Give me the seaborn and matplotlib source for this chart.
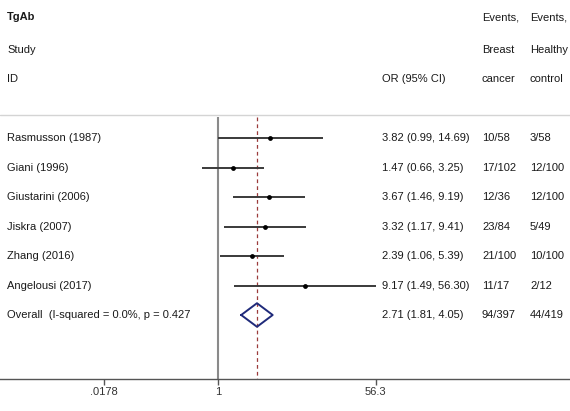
import numpy as np
import pandas as pd
import matplotlib
matplotlib.use("Agg")
import matplotlib.pyplot as plt
import seaborn as sns
from matplotlib.transforms import Bbox

# -----------------------
# Data
# -----------------------
studies = ["Rasmusson (1987)", "Giani (1996)", "Giustarini (2006)",
           "Jiskra (2007)", "Zhang (2016)", "Angelousi (2017)"]
odds_ratio = [3.82, 1.47, 3.67, 3.32, 2.39, 9.17]
ci_low = [0.99, 0.66, 1.46, 1.17, 1.06, 1.49]
ci_high = [14.69, 3.25, 9.19, 9.41, 5.39, 56.30]
events_cancer = ["10/58", "17/102", "12/36", "23/84", "21/100", "11/17"]
events_control = ["3/58", "12/100", "12/100", "5/49", "10/100", "2/12"]

overall_label = "Overall  (I-squared = 0.0%, p = 0.427)"
overall_or = 2.71
overall_low = 1.81
overall_high = 4.05
overall_cancer = "94/397"
overall_control = "44/419"

tick_labels = [".0178", "1", "56.3"]

df = pd.DataFrame({
    "study": studies,
    "or": odds_ratio,
    "low": ci_low,
    "high": ci_high,
    "ev1": events_cancer,
    "ev2": events_control,
})
df["row"] = np.arange(len(df))
overall_row = len(df)

# -----------------------
# Figure
# -----------------------
sns.set_style("white")
plt.rcParams["font.family"] = ["Liberation Sans", "DejaVu Sans"]

W, H = 570, 411
fig = plt.figure(figsize=(W / 100, H / 100), dpi=100)
ax = fig.add_axes([0, 32 / H, 1, 379 / H])

px_per_log = 39.1
x_one = 218
ax.set_xscale("log")
ax.set_xlim(np.exp(-x_one / px_per_log), np.exp((W - x_one) / px_per_log))
ax.set_ylim(8.17, -4.68)

# header separator
ax.axhline(-0.78, color="#d4d4d4", lw=1)

# null line and overall line
ax.vlines(1, -0.71, 8.17, color="#8a8a8a", lw=1.5, zorder=1)
ax.vlines(overall_or, -0.71, 8.17, color="#9b3b3b", lw=0.9,
          linestyles=(0, (3, 2.5)), zorder=1)

# study CIs and points
ax.hlines(df["row"], df["low"], df["high"], color="#3a3a3a", lw=1.4, zorder=2)
sns.scatterplot(data=df, x="or", y="row", ax=ax, color="black", s=12,
                edgecolor="black", linewidth=0, zorder=3, legend=False)

# overall diamond
dx = [overall_low, overall_or, overall_high, overall_or, overall_low]
dy = [overall_row, overall_row - 0.4, overall_row, overall_row + 0.4, overall_row]
ax.plot(dx, dy, color="#1f2a7a", lw=1.4, zorder=3)

# -----------------------
# Text columns
# -----------------------
tr = ax.get_yaxis_transform()
fs = 8
txt_col = "#1a1a1a"


def col_x(px):
    return px / W


ax.text(col_x(7), -4.1, "TgAb", transform=tr, fontsize=fs, fontweight="bold",
        va="center", color=txt_col)
ax.text(col_x(7), -3, "Study", transform=tr, fontsize=fs, va="center", color=txt_col)
ax.text(col_x(7), -2, "ID", transform=tr, fontsize=fs, va="center", color=txt_col)
ax.text(col_x(382), -2, "OR (95% CI)", transform=tr, fontsize=fs, va="center", color=txt_col)
for x, lines in [(482, ["Events,", "Breast", "cancer"]),
                 (530, ["Events,", "Healthy", "control"])]:
    for r, s in zip([-4.1, -3, -2], lines):
        ax.text(col_x(x), r, s, transform=tr, fontsize=fs, va="center", color=txt_col)

for _, r in df.iterrows():
    ax.text(col_x(7), r["row"], r["study"], transform=tr, fontsize=fs,
            va="center", color=txt_col)
    ax.text(col_x(382), r["row"],
            f"{r['or']:.2f} ({r['low']:.2f}, {r['high']:.2f})",
            transform=tr, fontsize=fs, va="center", color=txt_col)
    ax.text(col_x(482), r["row"], r["ev1"], transform=tr, fontsize=fs,
            va="center", color=txt_col)
    ax.text(col_x(530), r["row"], r["ev2"], transform=tr, fontsize=fs,
            va="center", color=txt_col)

# the overall label is cut off in the original
t = ax.text(col_x(7), overall_row, overall_label, transform=tr, fontsize=fs,
            va="center", color=txt_col, clip_on=True)
t.set_clip_box(Bbox.from_extents(0, 0, 190, H))
ax.text(col_x(382), overall_row,
        f"{overall_or:.2f} ({overall_low:.2f}, {overall_high:.2f})",
        transform=tr, fontsize=fs, va="center", color=txt_col)
ax.text(col_x(482), overall_row, overall_cancer, transform=tr, fontsize=fs,
        va="center", color=txt_col)
ax.text(col_x(530), overall_row, overall_control, transform=tr, fontsize=fs,
        va="center", color=txt_col)

# -----------------------
# Axis styling
# -----------------------
for side in ["top", "left", "right"]:
    ax.spines[side].set_visible(False)
ax.spines["bottom"].set_color("#555555")
ax.spines["bottom"].set_linewidth(1)
ax.set_yticks([])
ax.set_xticks([np.exp((104 - x_one) / px_per_log), 1, 56.3])
ax.set_xticklabels(tick_labels)
ax.xaxis.set_minor_locator(matplotlib.ticker.NullLocator())
ax.tick_params(axis="x", direction="out", length=4, width=1, color="#555555",
               labelsize=fs, labelcolor="#333333", pad=2, bottom=True)
ax.set_xlabel("")
ax.set_ylabel("")

fig.savefig("out.png", dpi=100)
